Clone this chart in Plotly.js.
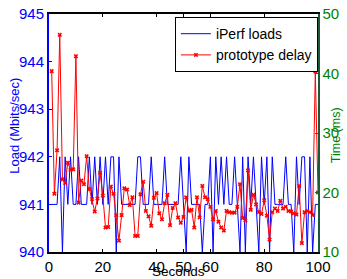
<!DOCTYPE html>
<html>
<head>
<meta charset="utf-8">
<script src="https://cdn.plot.ly/plotly-3.0.1.min.js"></script>
<style>html,body{margin:0;padding:0;background:#fff;}#chart{width:347px;height:279px;}</style>
</head>
<body>
<div id="chart"></div>
<script>
// Seconds
const seconds = [1,2,3,4,5,6,7,8,9,10,11,12,13,14,15,16,17,18,19,20,21,22,23,24,25,26,27,28,29,30,31,32,33,34,35,36,37,38,39,40,41,42,43,44,45,46,47,48,49,50,51,52,53,54,55,56,57,58,59,60,61,62,63,64,65,66,67,68,69,70,71,72,73,74,75,76,77,78,79,80,81,82,83,84,85,86,87,88,89,90,91,92,93,94,95,96,97,98,99,100];
// iPerf loads (Mbits/sec)
const iperfLoads = [941,941,941,942,940,942,941,942,941,941,942,941,941,941,942,941,942,941,942,941,942,941,942,942,940,942,941,941,941,941,941,941,942,942,941,941,941,942,941,941,941,941,942,941,941,941,941,941,942,941,940,942,941,941,941,941,940,941,941,942,940,942,941,942,941,942,941,941,942,941,940,942,940,942,941,942,941,940,942,941,942,940,942,941,941,941,941,942,941,941,940,942,941,942,942,940,942,940,941,941];
// prototype delay (ms)
const protoDelay = [40.4,19.8,27.1,46.5,22.2,21.6,25.0,23.8,23.9,42.9,18.3,22.0,21.4,26.1,20.6,18.9,16.8,19.0,23.3,19.5,14.1,14.2,21.0,19.8,16.2,11.9,16.2,20.7,20.5,17.9,19.2,12.7,12.7,19.7,21.8,16.9,16.0,14.4,19.1,19.9,16.5,15.5,18.2,19.6,14.5,17.4,18.2,15.8,14.9,15.9,19.2,16.9,17.1,14.1,19.2,15.8,21.1,19.2,18.9,17.6,15.5,16.9,15.1,14.1,13.6,16.9,16.7,16.6,16.6,17.6,21.4,15.7,15.3,23.7,17.1,19.6,18.0,16.7,16.4,18.7,16.1,12.1,16.7,17.3,16.9,18.6,17.3,17.6,16.9,16.8,16.5,16.3,21.1,11.5,16.7,16.9,16.7,16.2,40.3,20.0];
// tick labels
const xTicks = [0,20,40,50,60,80,100];
const loadTicks = [940,941,942,943,944,945];
const timeTicks = [10,20,30,40,50];

const font = '"Liberation Sans", Arial, Helvetica, sans-serif';
const green = '#008000';

const traces = [
  {x: seconds, y: iperfLoads, name: 'iPerf loads', type: 'scatter', mode: 'lines',
   line: {color: '#0000ff', width: 1}, yaxis: 'y'},
  {x: seconds, y: protoDelay, name: 'prototype delay', type: 'scatter', mode: 'lines+markers',
   line: {color: '#ff0000', width: 1}, marker: {symbol: 'x', size: 4, color: '#ff0000'}, yaxis: 'y2'}
];

const layout = {
  width: 347, height: 279,
  margin: {l: 49, r: 29, t: 14, b: 27},
  paper_bgcolor: '#fff', plot_bgcolor: '#fff',
  font: {family: font, size: 15, color: '#000'},
  showlegend: true,
  legend: {x: 0.468, y: 0.987, xanchor: 'left', yanchor: 'top',
    bgcolor: '#fff', bordercolor: '#000', borderwidth: 1,
    font: {family: font, size: 14, color: '#000'}, tracegroupgap: 0},
  xaxis: {range: [0, 100], tickvals: xTicks, ticktext: xTicks.map(String),
    ticks: 'inside', ticklen: 3, tickcolor: '#000',
    showline: true, linecolor: '#000', linewidth: 2, mirror: 'ticks',
    showgrid: false, zeroline: false,
    tickfont: {family: font, size: 15, color: '#000'}},
  yaxis: {range: [940, 945], tickvals: loadTicks, ticktext: loadTicks.map(String),
    ticks: 'inside', ticklen: 3, tickcolor: '#0000ff',
    showline: true, linecolor: '#0000ff', linewidth: 2,
    showgrid: false, zeroline: false,
    tickfont: {family: font, size: 15, color: '#0000ff'}},
  yaxis2: {range: [10, 50], tickvals: timeTicks, ticktext: timeTicks.map(String),
    overlaying: 'y', side: 'right',
    ticks: 'inside', ticklen: 3, tickcolor: green,
    showline: true, linecolor: '#1a5a3a', linewidth: 1.5,
    showgrid: false, zeroline: false,
    tickfont: {family: font, size: 15, color: green}},
  annotations: [
    {text: 'Seconds', xref: 'paper', yref: 'paper', x: 0.48, y: -0.082,
     xanchor: 'center', yanchor: 'middle', showarrow: false,
     font: {family: font, size: 13.5, color: '#000'}},
    {text: 'Load (Mbits/sec)', xref: 'paper', yref: 'paper', x: -0.127, y: 0.53,
     xanchor: 'center', yanchor: 'middle', textangle: -90, showarrow: false,
     font: {family: font, size: 13, color: '#0000ff'}},
    {text: 'Time (ms)', xref: 'paper', yref: 'paper', x: 1.07, y: 0.49,
     xanchor: 'center', yanchor: 'middle', textangle: -90, showarrow: false,
     font: {family: font, size: 12.5, color: green}}
  ]
};

Plotly.newPlot('chart', traces, layout, {staticPlot: true, displayModeBar: false});
</script>
</body>
</html>
